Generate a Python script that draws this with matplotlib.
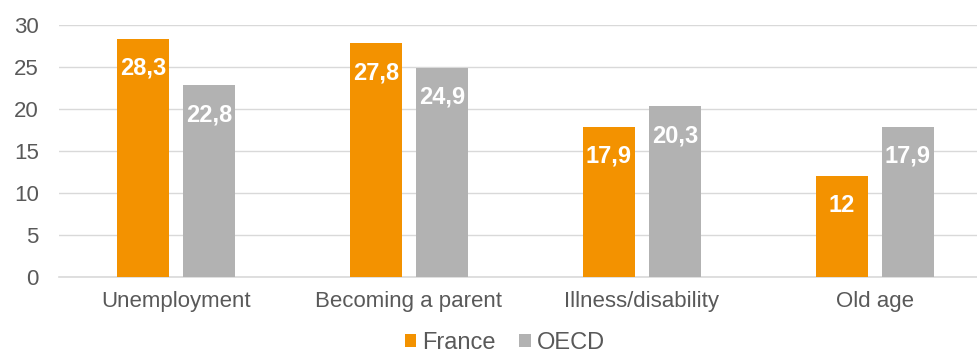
import matplotlib
matplotlib.use("Agg")
import matplotlib.pyplot as plt
import numpy as np

categories = ["Unemployment", "Becoming a parent", "Illness/disability", "Old age"]
france = [28.3, 27.8, 17.9, 12]
oecd = [22.8, 24.9, 20.3, 17.9]
series_names = ["France", "OECD"]
colors = ["#F39200", "#B2B2B2"]

plt.rcParams['font.family'] = ['Liberation Sans', 'DejaVu Sans']

fig = plt.figure(figsize=(9.78, 3.54), dpi=100)
ax = fig.add_axes([59.5/978, 77/354, 932/978, 252/354])

x = np.arange(len(categories))
w = 52/233
off = 33/233

def fmt(v):
    s = f"{v:g}"
    return s.replace(".", ",")

for vals, o, c, name in [(france, -off, colors[0], series_names[0]), (oecd, off, colors[1], series_names[1])]:
    bars = ax.bar(x + o, vals, width=w, color=c, label=name, zorder=3)
    for b, v in zip(bars, vals):
        ax.annotate(fmt(v), (b.get_x() + b.get_width()/2, v), xytext=(0, -21),
                    textcoords="offset points", ha="center", va="center",
                    color="white", fontweight="bold", fontsize=17, zorder=4)

ax.set_xlim(-0.5, len(categories) - 0.5)
ax.set_ylim(0, 30)
ax.set_yticks(np.arange(0, 31, 5))
ax.yaxis.grid(True, color="#D9D9D9", linewidth=1)
ax.set_axisbelow(True)
for s in ["top", "right", "left"]:
    ax.spines[s].set_visible(False)
ax.spines["bottom"].set_color("#D9D9D9")
ax.spines["bottom"].set_linewidth(1.2)
ax.set_xticks(x)
ax.set_xticklabels(categories)
ax.tick_params(axis="both", length=0, labelsize=16, labelcolor="#595959")
ax.tick_params(axis="y", pad=15)
ax.tick_params(axis="x", pad=10)

leg = fig.legend(loc="center", bbox_to_anchor=(505/978, 1 - 343/354), ncol=2, frameon=False,
                 fontsize=17, handlelength=0.5, handleheight=0.5, handletextpad=0.25,
                 columnspacing=1.0, labelcolor="#595959")

fig.savefig("out.png", dpi=100)
